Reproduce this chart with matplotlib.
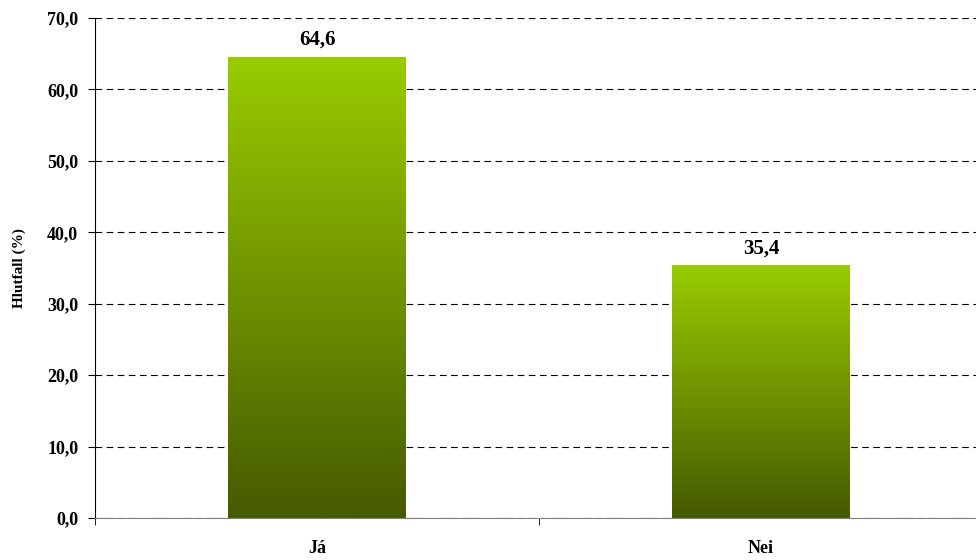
import numpy as np
import matplotlib.pyplot as plt
from matplotlib.colors import LinearSegmentedColormap
from matplotlib.ticker import MultipleLocator, FuncFormatter

# data
categories = ['Já', 'Nei']
values = [64.6, 35.4]

plt.rcParams['font.family'] = ['Liberation Serif', 'DejaVu Serif']
plt.rcParams['font.weight'] = 'bold'

fig = plt.figure(figsize=(9.76, 5.6), dpi=100)
ax = fig.add_axes([95/976, 42/560, 888/976, 500/560])

# gradient from dark olive (bottom) to light green (top)
cmap = LinearSegmentedColormap.from_list('grn', ['#465a00', '#99cc00'])
grad = np.linspace(0, 1, 256).reshape(-1, 1)

x = np.arange(len(categories))
bars = ax.bar(x, values, width=0.4, color='none', edgecolor='none', zorder=3)
for b in bars:
    x0, y0 = b.get_x(), b.get_y()
    w, h = b.get_width(), b.get_height()
    img = ax.imshow(grad, cmap=cmap, aspect='auto', origin='lower',
                    extent=[x0, x0 + w, y0, y0 + h], zorder=3)
    img.set_clip_path(b)

for xi, v in zip(x, values):
    ax.annotate(f'{v:.1f}'.replace('.', ','), (xi, v), xytext=(0, 5),
                textcoords='offset points', ha='center', va='bottom',
                fontsize=15, fontweight='bold')

ax.set_xlim(-0.5, 1.5)
ax.set_ylim(0, 70)
ax.yaxis.set_major_locator(MultipleLocator(10))
ax.yaxis.set_major_formatter(FuncFormatter(lambda v, p: f'{v:.1f}'.replace('.', ',')))
ax.grid(axis='y', color='black', linestyle=(0, (6, 4)), linewidth=0.8, zorder=1)

ax.set_xticks(x)
ax.set_xticklabels(categories)
ax.set_xticks([-0.5, 0.5, 1.5], minor=True)
ax.tick_params(axis='x', which='major', length=0, pad=16, labelsize=13)
ax.tick_params(axis='x', which='minor', length=5, color='black')
ax.tick_params(axis='y', length=5, pad=7, labelsize=13)

ax.set_ylabel('Hlutfall (%)', fontsize=11, fontweight='bold', labelpad=15)

for s in ['top', 'right']:
    ax.spines[s].set_visible(False)
ax.spines['bottom'].set_color('#808080')
ax.spines['bottom'].set_zorder(4)

fig.savefig('out.png', dpi=100)
